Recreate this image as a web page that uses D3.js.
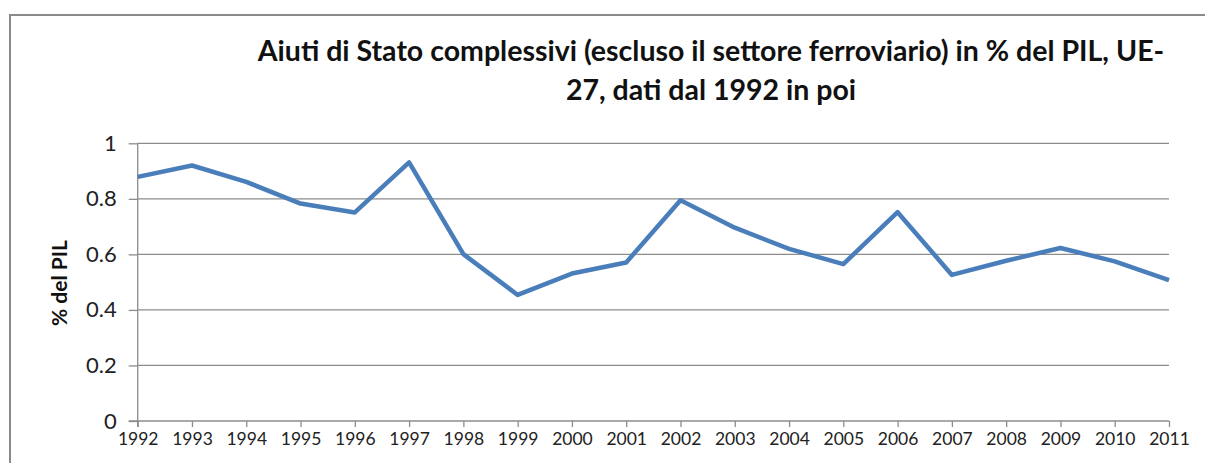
<!DOCTYPE html>
<meta charset="utf-8">
<script src="https://d3js.org/d3.v7.min.js"></script>
<style>
  body { margin: 0; background: #fff; }
  svg { display: block; }
</style>
<div id="chart"></div>
<script>
    // data
    var years = [1992, 1993, 1994, 1995, 1996, 1997, 1998, 1999, 2000, 2001,
                 2002, 2003, 2004, 2005, 2006, 2007, 2008, 2009, 2010, 2011]
    var aiuti = [0.879, 0.920, 0.861, 0.783, 0.751, 0.931, 0.601, 0.454, 0.531, 0.571,
                 0.795, 0.696, 0.620, 0.565, 0.752, 0.526, 0.577, 0.623, 0.575, 0.507]
    var yTicks = [0, 0.2, 0.4, 0.6, 0.8, 1]
    var titleLines = ["Aiuti di Stato complessivi (escluso il settore ferroviario) in % del PIL, UE-",
                      "27, dati dal 1992 in poi"]
    var yTitle = "% del PIL"

    var W = 1205, H = 463
    var margin = {top: 143.3, right: 36, bottom: 42, left: 137.7}
    var width = W - margin.left - margin.right,
        height = H - margin.top - margin.bottom

    var svg = d3.select("#chart").append("svg")
        .attr("width", W)
        .attr("height", H)

    // outer frame (cut off at right and bottom)
    svg.append("path")
        .attr("d", "M10," + H + "V15H" + W)
        .attr("fill", "none")
        .attr("stroke", "#8a8a8a")
        .attr("stroke-width", 2)

    var g = svg.append("g")
        .attr("transform", "translate(" + margin.left + "," + margin.top + ")")

    var x = d3.scalePoint()
        .domain(years)
        .range([0, width])

    var y = d3.scaleLinear()
        .domain([0, 1])
        .range([height, 0])

    // gridlines
    g.selectAll(".grid")
        .data(yTicks.slice(1))
        .enter()
        .append("line")
        .attr("x1", 0)
        .attr("x2", width)
        .attr("y1", function (d) { return y(d) })
        .attr("y2", function (d) { return y(d) })
        .attr("stroke", "#8c8c8c")
        .attr("stroke-width", 1.3)

    // y axis
    var yAxis = g.append("g")
        .call(d3.axisLeft(y).tickValues(yTicks).tickSize(9).tickPadding(12)
            .tickFormat(function (d) { return d3.format("")(d) }))
    yAxis.selectAll("path, line").attr("stroke", "#8c8c8c").attr("stroke-width", 1.3)
    yAxis.select(".domain").attr("d", "M0," + (height + 6) + "V0")
    yAxis.selectAll("text")
        .attr("font-family", "Lato, 'Open Sans', sans-serif")
        .attr("font-size", "22px")
        .attr("fill", "#222")

    // x axis
    var xAxis = g.append("g")
        .attr("transform", "translate(0," + height + ")")
        .call(d3.axisBottom(x).tickSize(6).tickPadding(6))
    xAxis.selectAll("path, line").attr("stroke", "#8c8c8c").attr("stroke-width", 1.3)
    xAxis.select(".domain").attr("d", "M-9,0H" + width)
    xAxis.selectAll("text")
        .attr("font-family", "Lato, 'Open Sans', sans-serif")
        .attr("font-size", "17.5px")
        .attr("fill", "#222")

    // line
    var line = d3.line()
        .x(function (d, i) { return x(years[i]) })
        .y(function (d) { return y(d) })

    g.append("path")
        .datum(aiuti)
        .attr("fill", "none")
        .attr("stroke", "#4a7ebb")
        .attr("stroke-width", 4.5)
        .attr("stroke-linejoin", "round")
        .attr("d", line)

    // y axis title
    svg.append("text")
        .attr("transform", "translate(67,283) rotate(-90)")
        .attr("text-anchor", "middle")
        .attr("font-family", "Lato, 'Open Sans', sans-serif")
        .attr("font-weight", "bold")
        .attr("font-size", "21px")
        .attr("fill", "#111")
        .text(yTitle)

    // chart title
    svg.selectAll(".title")
        .data(titleLines)
        .enter()
        .append("text")
        .attr("x", 711)
        .attr("y", function (d, i) { return 61 + i * 39 })
        .attr("text-anchor", "middle")
        .attr("font-family", "Lato, 'Open Sans', sans-serif")
        .attr("font-weight", "bold")
        .attr("font-size", "28.5px")
        .attr("fill", "#111")
        .text(function (d) { return d })
</script>
